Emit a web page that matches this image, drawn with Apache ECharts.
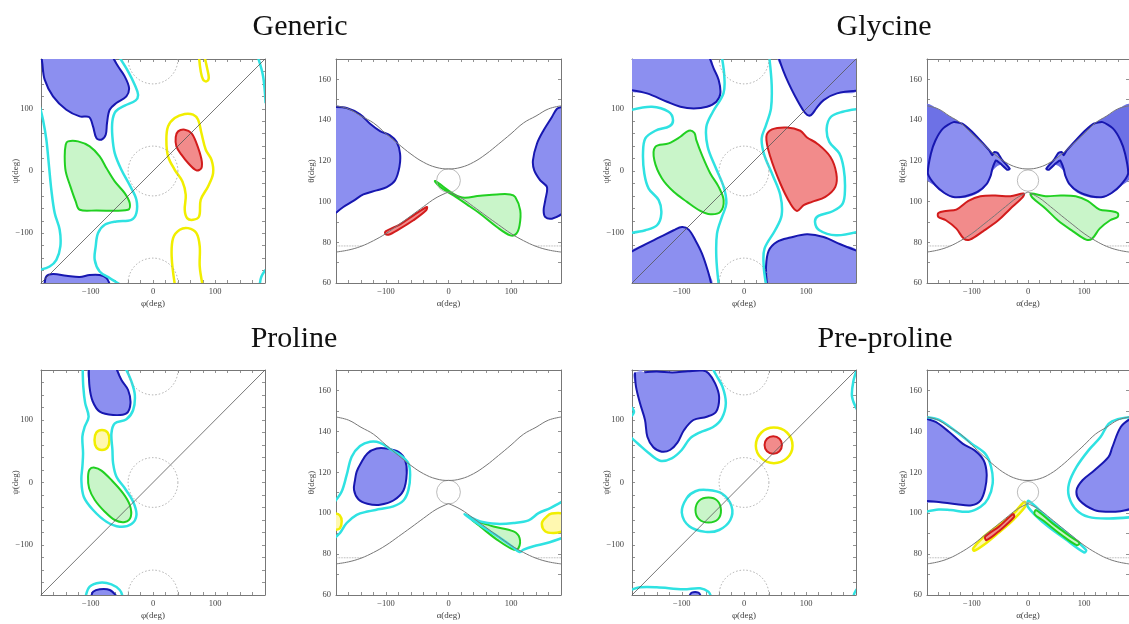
<!DOCTYPE html>
<html>
<head>
<meta charset="utf-8">
<script src="https://cdn.jsdelivr.net/npm/echarts@6/dist/echarts.min.js"></script>
<style>
  html, body { margin: 0; padding: 0; background: #fff; }
  #chart { width: 1129px; height: 624px; }
</style>
</head>
<body>
<div id="chart"></div>
<script>
// ---- axis ticks / labels ----
var angleTicks = [-180, -160, -140, -120, -100, -80, -60, -40, -20, 0, 20, 40, 60, 80, 100, 120, 140, 160, 180];
var angleLabels = [-100, 0, 100];
var thetaTicks = [60, 70, 80, 90, 100, 110, 120, 130, 140, 150, 160, 170];
var thetaLabels = [60, 80, 100, 120, 140, 160];
var titles = ['Generic', 'Glycine', 'Proline', 'Pre-proline'];

// ---- reference geometry ----
var hourUpper = [[-180, 147], [-160, 145.5], [-140, 142], [-120, 138.6], [-100, 133.3], [-80, 128.2], [-60, 123.3], [-40, 119.3], [-20, 116.8], [0, 116], [20, 116.8], [40, 119.3], [60, 123.3], [80, 128.2], [100, 133.3], [120, 138.6], [140, 142], [160, 145.5], [180, 147]];
var hourLowerL = [[-180, 75.2], [-160, 76.2], [-140, 78], [-120, 80.8], [-100, 84.3], [-80, 88.6], [-60, 93], [-40, 97.5], [-20, 101.8], [0, 104.7]];
var hourLowerR = [[0, 104.7], [20, 101.8], [40, 97.5], [60, 93], [80, 88.6], [100, 84.3], [120, 80.8], [140, 78], [160, 76.2], [180, 75.2]];
var dottedL = [[-180, 78.2], [-138, 78.2]];
var dottedR = [[138, 78.2], [180, 78.2]];
var ramaCircles = [[0, 0, 40], [0, 180, 40], [0, -180, 40]];
var atCircle = [[0, 110.3, 19]];
var diag = [[-180, -180], [180, 180]];

// ---- Generic, phi/psi ----
var gRamaBlueTop = [[-179, 182], [-178, 173.6], [-174.1, 146.8], [-160.7, 120], [-139.3, 98.5], [-117.8, 87.8], [-102.8, 86.7], [-96.4, 71.7], [-91, 53], [-83, 50.3], [-76, 58.3], [-73.9, 77.1], [-69.6, 98.5], [-58.9, 109.2], [-42.8, 120], [-38.5, 133.4], [-45.5, 152.1], [-56.2, 168.2], [-64.2, 182]];
var gRamaBlueBot = [[-174.1, -182], [-171.4, -169.5], [-160.7, -165.7], [-139.3, -168.4], [-117.8, -170.5], [-101.7, -167.3], [-85.7, -167.3], [-74.9, -172.1], [-69.6, -182]];
var gRamaCyanL = [[-182, 103.9], [-176.8, 82.4], [-171.4, 50.3], [-167.1, 7.4], [-163.4, -30.1], [-158, -67.6], [-150, -94.4], [-148.9, -121.2], [-155.3, -142.7], [-166.1, -153.4], [-182, -158.8]];
var gRamaCyanR = [[-53.5, 182], [-40.1, 160.2], [-29.4, 138.7], [-24, 122.6], [-27.8, 113.5], [-45.5, 105], [-60, 95.8], [-65.3, 79.8], [-65.3, 55.6], [-61.5, 28.8], [-50.8, 2], [-36.4, -24.8], [-26.7, -46.2], [-26.7, -67.6], [-34.7, -78.4], [-58.9, -81], [-77.6, -86.4], [-88.3, -99.8], [-92.1, -121.2], [-93.7, -142.7], [-85.7, -161.4], [-69.6, -172.2], [-53.5, -182]];
var gRamaCyanTR = [[168.9, 182], [177, 152], [181, 109]];
var gRamaCyanBR = [[181, -158.8], [174.3, -169.5], [171.6, -182]];
var gRamaGreen = [[-136.6, 47.6], [-120.5, 47.6], [-101.7, 39.6], [-85.7, 23.5], [-74.9, 4.7], [-61.5, -16.7], [-45.5, -35.5], [-37.4, -51.6], [-40.1, -62.3], [-91, -63.3], [-117.8, -62.3], [-124.3, -48.9], [-132.8, -24.8], [-140.3, -0.6], [-141.9, 23.5], [-140.3, 42.2]];
var gRamaRed = [[40.3, 63.7], [51, 66.4], [61.7, 61], [69.8, 44.9], [77.8, 19.2], [77.8, 4.7], [69.8, 1], [56.4, 12.8], [45.7, 26.2], [37.6, 39.6], [36.5, 54.6]];
var gRamaYelTop = [[74.1, 182], [76.7, 160.2], [80.5, 146.8], [85.9, 144.1], [89.6, 149.4], [86.9, 165.5], [83.2, 182]];
var gRamaYelMid = [[24.2, 71.7], [21.5, 50.3], [24.2, 23.5], [34.9, 2], [47.3, -16.7], [52.6, -38.2], [51, -62.3], [54.8, -75.7], [64.4, -78.4], [74.1, -73], [76.7, -46.2], [88.5, -24.8], [96.6, -3.3], [93.9, 18.1], [84.8, 34.2], [77.8, 61], [72.5, 82.4], [64.4, 90.5], [51, 91.6], [34.9, 85.1]];
var gRamaYelBot = [[35, -182], [30, -137.3], [32.3, -107.8], [43, -94.4], [56.4, -91.8], [69.8, -99.8], [75.1, -121.2], [75.1, -153.4], [79.4, -182]];

// ---- Generic, alpha/theta ----
var gAtBlueL = [[-182, 146.4], [-162.9, 145.9], [-141.5, 142.8], [-125.5, 138.2], [-109.5, 134.6], [-93.5, 132.5], [-82.8, 129.2], [-77.5, 123.5], [-78.5, 117], [-85.5, 110.4], [-98.8, 107.1], [-114.9, 105.5], [-136.2, 103.5], [-152.2, 100.3], [-168.3, 97.3], [-182, 94]];
var gAtBlueR = [[182, 146.4], [173.6, 145.6], [165.5, 141.5], [152.2, 135], [141.5, 128.4], [135.1, 120.2], [137.2, 115.3], [146.8, 110.4], [157.5, 107.1], [154.8, 100.6], [152.2, 95.7], [154.8, 92.4], [165.5, 91.6], [182, 94]];
var gAtGreen = [[-21.4, 110.1], [18.7, 102.2], [50.7, 102.9], [77.4, 103.5], [98.8, 103.5], [106.8, 102.2], [114.8, 95.7], [113.7, 88.3], [108.4, 84.2], [98.8, 83.4], [77.4, 87.5], [50.7, 94], [29.3, 98.6], [8, 103], [-13.4, 107.1]];
var gAtRed = [[-99.9, 85.5], [-77.5, 88.8], [-56.1, 93.2], [-34.7, 97.3], [-35.8, 95.7], [-56.1, 90.8], [-77.5, 86.7], [-96.2, 83.7], [-101.5, 84.5]];

// ---- Glycine, phi/psi ----
var yRamaBlueTL = [[-182, 130.1], [-155.9, 124.7], [-123.8, 111.3], [-102.3, 103.3], [-80.9, 100.6], [-59.5, 103.3], [-44.5, 111.3], [-38, 124.7], [-40.7, 146.2], [-48.8, 165], [-55.2, 182]];
var yRamaBlueTR = [[55.7, 182], [62.7, 162.3], [71.8, 140.8], [82.5, 119.4], [93.2, 100.6], [101.2, 90.4], [107.7, 89.9], [116.2, 100.6], [128, 114], [149.5, 124.7], [182, 129]];
var yRamaBlueBL = [[-182, -130.1], [-158.6, -117.8], [-134.5, -106], [-113, -95.2], [-99.6, -89.9], [-88.9, -94.2], [-78.2, -111.3], [-67.5, -132.8], [-58.4, -159.6], [-52.5, -182]];
var yRamaBlueBR = [[37, -182], [35.4, -154.2], [39.6, -128.5], [53, -114], [74.5, -107], [101.2, -101.7], [128, -106], [154.8, -117.8], [182, -128.5]];
var yRamaCyanL = [[-182, 97.9], [-147.9, 103.3], [-121.1, 95.2], [-114.1, 81.8], [-119.5, 72.2], [-142.5, 64.7], [-158.6, 52.3], [-162.3, 28.2], [-160.2, -4], [-153.2, -28.2], [-137.1, -46.9], [-132.9, -68.4], [-139.8, -87.2], [-158.6, -95.2], [-182, -99.5]];
var yRamaCyanR = [[182, -97.9], [147.9, -103.3], [121.1, -95.2], [114.1, -81.8], [119.5, -72.2], [142.5, -64.7], [158.6, -52.3], [162.3, -28.2], [160.2, 4], [153.2, 28.2], [137.1, 46.9], [132.9, 68.4], [139.8, 87.2], [158.6, 95.2], [182, 99.5]];
var yRamaCyanCL = [[-35.4, 182], [-31.6, 151.6], [-33, 124.7], [-50, 95.2], [-60.5, 71.1], [-58.4, 38.9], [-46.1, 6.7], [-32.7, -25.5], [-28.4, -52.3], [-35.4, -73.8], [-43.4, -100.6], [-44.5, -138.1], [-40.7, -182]];
var yRamaCyanCR = [[40.7, 182], [44.5, 138.1], [43.4, 100.6], [35.4, 73.8], [28.4, 52.3], [32.7, 25.5], [46.1, -6.7], [58.4, -38.9], [60.5, -71.1], [50, -95.2], [33, -124.7], [31.6, -151.6], [35.4, -182]];
var yRamaGreen = [[-121.1, 44.3], [-142.5, 38.9], [-144.1, 17.4], [-131.8, -12.1], [-113, -33.5], [-91.6, -49.6], [-70.2, -64.1], [-54.1, -69.5], [-38.1, -65.7], [-32.7, -46.9], [-40.7, -25.5], [-54.1, -4], [-67.5, 25.5], [-76.6, 49.6], [-79.8, 61.4], [-88.9, 64.7], [-102.3, 55]];
var yRamaRed = [[45, 66.8], [35.9, 55], [42.3, 22.8], [58.4, -20.1], [74.5, -52.3], [85.2, -64.1], [95.9, -55], [109.3, -49.6], [130.7, -41.6], [146.8, -25.5], [148.4, -4], [138.7, 22.8], [117.3, 44.3], [101.3, 53.9], [90.5, 64.7], [69.1, 70]];

// ---- Glycine, alpha/theta ----
var yAtDarkL = [[-182, 147.5], [-160, 145.5], [-140, 142], [-120, 138.6], [-100, 133.3], [-80, 128.2], [-60, 123.3], [-45, 120.3], [-33, 116.8], [-50, 118], [-63, 115], [-80, 106], [-110, 102], [-140, 102.5], [-165, 107.5], [-182, 112]];
var yAtBlueL = [[-178.4, 113.7], [-173.1, 123.5], [-165, 130], [-151.7, 135.8], [-133, 139], [-117, 138.2], [-101, 134.6], [-85, 130], [-68.9, 125.1], [-63.6, 122.7], [-60.4, 124.3], [-54, 123.8], [-46.5, 120.6], [-32.6, 116.1], [-36.9, 115.6], [-50.2, 118.9], [-57.2, 120.2], [-63.6, 116.1], [-66.3, 112.9], [-74.3, 108.4], [-90.3, 104.7], [-111.6, 102.6], [-133, 102.2], [-149, 104.2], [-165, 108]];
var yAtDarkR = [[182, 147.5], [160, 145.5], [140, 142], [120, 138.6], [100, 133.3], [80, 128.2], [60, 123.3], [45, 120.3], [33, 116.8], [50, 118], [63, 115], [80, 106], [110, 102], [140, 102.5], [165, 107.5], [182, 112]];
var yAtBlueR = [[178.4, 113.7], [173.1, 123.5], [165, 130], [151.7, 135.8], [133, 139], [117, 138.2], [101, 134.6], [85, 130], [68.9, 125.1], [63.6, 122.7], [60.4, 124.3], [54, 123.8], [46.5, 120.6], [32.6, 116.1], [36.9, 115.6], [50.2, 118.9], [57.2, 120.2], [63.6, 116.1], [66.3, 112.9], [74.3, 108.4], [90.3, 104.7], [111.6, 102.6], [133, 102.2], [149, 104.2], [165, 108]];
var yAtRed = [[-159.7, 94.4], [-146.4, 95.4], [-127.7, 96], [-106.3, 100.3], [-85, 102.6], [-58.2, 103], [-31.5, 102.6], [-7.5, 103.9], [-10.2, 101.9], [-31.5, 96.5], [-52.9, 90.8], [-79.6, 85.5], [-103.6, 81.3], [-114.3, 81.8], [-127.7, 86.7], [-146.4, 90.8], [-159.7, 92.4]];
var yAtGreen = [[159.7, 94.4], [146.4, 95.4], [127.7, 96], [106.3, 100.3], [85, 102.6], [58.2, 103], [31.5, 102.6], [5, 103.9], [8, 101.9], [31.5, 96.5], [52.9, 90.8], [79.6, 85.5], [103.6, 81.3], [114.3, 81.8], [127.7, 86.7], [146.4, 90.8], [159.7, 92.4]];

// ---- Proline, phi/psi ----
var pRamaBlueTop = [[-103, 182], [-102, 153], [-97, 130], [-85.6, 113.3], [-64.1, 108], [-42.7, 110.7], [-36.2, 126.7], [-40, 148], [-50.7, 164], [-58.7, 182]];
var pRamaBlueBot = [[-99, -182], [-96.3, -174.7], [-85.6, -170.9], [-69.5, -172], [-58.7, -182]];
var pRamaCyan = [[-113, 182], [-112, 153], [-109, 127], [-103.5, 105.3], [-109.7, 89.3], [-113.5, 73.3], [-112.4, 46.7], [-113.5, 25.3], [-115.1, 4], [-111.3, -22.7], [-96.3, -44], [-74.8, -62.7], [-53.4, -70.7], [-34.6, -66.4], [-26.6, -52], [-31.9, -30.7], [-45.3, -9.3], [-58.7, 9.3], [-64.1, 30.7], [-65.2, 52], [-66.8, 78.7], [-61.4, 94.7], [-42.7, 101.1], [-31.9, 116], [-29.2, 140], [-34.6, 161.3], [-43.7, 182]];
var pRamaCyanBot = [[-108.1, -182], [-101.7, -166.7], [-85.6, -160.3], [-66.8, -162.9], [-53.4, -172], [-49.1, -182]];
var pRamaYellow = [[-82, 84], [-73, 80], [-70, 68], [-73, 56], [-82, 52], [-91, 56], [-94, 68], [-91, 80]];
var pRamaGreen = [[-93.6, 23.7], [-101.7, 21.1], [-104.4, 9.3], [-102.7, -9.3], [-93.6, -28], [-77.5, -46.7], [-61.4, -60], [-45.3, -63.2], [-35.7, -54.7], [-37.3, -36], [-48, -17.3], [-66.8, 4], [-82.9, 19]];

// ---- Proline, alpha/theta ----
var pAtBlue = [[-149.6, 116.2], [-151.2, 111.4], [-144.2, 106.8], [-129.8, 104.6], [-109.5, 104.1], [-88.2, 106.2], [-72.1, 111.1], [-66.8, 119.5], [-69.5, 126], [-80.1, 130], [-98.8, 131.6], [-114.9, 131.6], [-129.8, 129.2], [-140.5, 124.3], [-146.9, 120.3]];
var pAtCyanL = [[-182, 105.7], [-170.9, 110.6], [-162.9, 118.7], [-154.9, 127.6], [-141.6, 132.8], [-125.5, 134.9], [-109.5, 134.4], [-90.8, 130.8], [-74.8, 127.9], [-64.1, 124.3], [-61.4, 118.7], [-64.1, 111.4], [-72.1, 106.2], [-88.2, 103.3], [-109.5, 102], [-129.8, 100.8], [-146.9, 99.2], [-162.9, 95.2], [-173.6, 90.3], [-182, 87.9]];
var pAtCyanR = [[182, 105.7], [162.8, 102.5], [144.1, 100], [128.1, 96.5], [104.1, 95.2], [77.4, 94.8], [50.7, 96], [25.6, 99.4], [50, 94.3], [80, 88.4], [100, 84.1], [113.7, 81], [120.1, 82.2], [136.1, 83.8], [157.5, 85.4], [182, 87.9]];
var pAtYelL = [[-182, 100], [-174, 99], [-170.9, 96], [-174, 92.5], [-182, 91.9]];
var pAtYelR = [[182, 100], [165, 99.8], [157.5, 98.4], [149.5, 95.2], [154.8, 91.1], [168.2, 90.3], [182, 91.1]];
var pAtGreen = [[37.4, 96.8], [45.4, 96], [72.1, 93.5], [104.1, 91.1], [113.7, 87.9], [112.1, 83], [104.1, 82.2], [77.4, 87.1], [50.7, 93.5]];

// ---- Pre-proline, phi/psi ----
var qRamaBlue = [[-175.2, 176], [-173.6, 153.3], [-167.1, 126.7], [-159.1, 100], [-155.3, 73.3], [-145.7, 56.3], [-132.3, 49.3], [-118.8, 52], [-107, 63.7], [-96.3, 84], [-81.3, 100], [-59.8, 105.3], [-44.8, 113.3], [-40, 137.3], [-46.4, 158.7], [-57.1, 174.7], [-66, 179], [-90, 178], [-115, 176], [-140, 177.5], [-160, 176.5]];
var qRamaCyan = [[-182, 72.3], [-169.8, 61.6], [-153.7, 47.7], [-134.9, 34.9], [-116.2, 38.7], [-100.1, 52], [-86.6, 70.7], [-70.6, 80.3], [-50.2, 88.3], [-35.7, 102.7], [-29.2, 126.7], [-34.6, 153.3], [-44.8, 172], [-50.2, 182]];
var qRamaCyanL = [[-182, 121.3], [-176.8, 113.3], [-182, 105.3]];
var qRamaCyanTR = [[182, 182], [176.2, 164], [173.6, 137.3], [182, 116]];
var qRamaCyanBot = [[-182, -172], [-167.1, -167.7], [-140.3, -167.7], [-97.4, -170.9], [-70.6, -169.3], [-57.1, -174.7], [-53.4, -182]];
var qRamaCyanBR = [[182, -170], [178, -176], [176, -182]];
var qRamaBlueBot = [[-87.7, -182], [-84, -176.3], [-73.2, -176.3], [-69.5, -182]];
var qRamaGreen = [[-57, -24], [-43, -29], [-37, -44], [-42, -59], [-57, -64], [-72, -59], [-78, -44], [-72, -29]];
var qRamaCyanG = [[-60, -12], [-35, -18], [-20, -38], [-22, -60], [-40, -76], [-62, -79], [-88, -70], [-100, -48], [-92, -25], [-78, -14]];
var qRamaRed = [[47, 74], [57, 70], [61, 60], [57, 50], [47, 46], [37, 50], [33, 60], [37, 70]];
var qRamaYellow = [[48, 88], [69, 80], [78, 59], [69, 39], [48, 31], [28, 39], [19, 59], [28, 80]];

// ---- Pre-proline, alpha/theta ----
var qAtBlueL = [[-182, 146.2], [-164.5, 144.6], [-140.5, 139.7], [-116.5, 134], [-95.1, 130.7], [-79.1, 125.9], [-73.7, 119.3], [-76.4, 112], [-84.4, 106.3], [-100.4, 103.9], [-127.1, 104.4], [-159.2, 105.5], [-182, 106]];
var qAtCyanL = [[-182, 147], [-159.2, 145.7], [-127.1, 139.7], [-100.4, 134], [-76.4, 129.1], [-65.7, 122.6], [-63, 114.5], [-71, 107.2], [-84.4, 103.1], [-105.8, 100.7], [-137.8, 101.5], [-159.2, 101.8], [-182, 100.7]];
var qAtBlueR = [[182, 146], [165, 142], [150, 132], [143.6, 127.5], [118.5, 121], [97.1, 116.1], [86.5, 111.2], [91.8, 106.3], [118.5, 101.5], [143.6, 100.7], [165, 101], [182, 102]];
var qAtCyanR = [[182, 147], [160, 146], [143.6, 143.7], [129.2, 137.2], [107.8, 130.7], [86.5, 122.6], [73.1, 114.5], [73.1, 108], [86.5, 101.5], [107.8, 98.2], [143.6, 97.4], [182, 98]];
var qAtYellow = [[-97.8, 82.8], [-79.1, 88.5], [-52.4, 94.1], [-25.7, 99.8], [-7, 105.5], [-3.2, 103.9], [-25.7, 96.9], [-52.4, 90.4], [-79.1, 84.4], [-96.2, 81.6]];
var qAtRed = [[-76.4, 88.5], [-52.4, 93.3], [-26.8, 99.5], [-24.7, 98.2], [-49.7, 91.7], [-73.7, 86.8]];
var qAtCyanG = [[1, 106], [33.1, 98.2], [70.4, 90.1], [103.5, 82], [99.8, 80.8], [65.1, 87.6], [27.7, 95.3], [0, 103]];
var qAtGreen = [[14.4, 101.5], [43.7, 95], [75.8, 88.5], [91.8, 85.5], [86.5, 84.4], [59.8, 89.3], [27.7, 96.3], [11.7, 99.5]];

// ---- styles ----
var C = {
  blueFill: '#8c8ff0', blueLine: '#1717b0', darkFill: '#6d71e6',
  cyan: '#2fe2e2', greenFill: '#c9f5c9', greenLine: '#21d021',
  redFill: '#f28b8b', redLine: '#d21c1c', yellow: '#f1ee00', yellowFill: '#fff8b0'
};
var FONT = 'Liberation Serif';

var panels = [
  { type: 'rama', left: 41, top: 59, w: 224, h: 224 },
  { type: 'at', left: 336, top: 59, w: 225, h: 224 },
  { type: 'rama', left: 632, top: 59, w: 224, h: 224 },
  { type: 'at', left: 927, top: 59, w: 225, h: 224 },
  { type: 'rama', left: 41, top: 370, w: 224, h: 225 },
  { type: 'at', left: 336, top: 370, w: 225, h: 225 },
  { type: 'rama', left: 632, top: 370, w: 224, h: 225 },
  { type: 'at', left: 927, top: 370, w: 225, h: 225 }
];

function fmt(v) { return String(v).replace('-', '\u2212'); }

function axis(gi, pos, ticks, labels, min, max, name, margin, gap) {
  return {
    type: 'value', gridIndex: gi, position: pos, min: min, max: max,
    axisLine: { show: true, onZero: false, lineStyle: { color: '#777', width: 1 } },
    axisTick: { show: true, inside: true, length: 3, customValues: ticks, lineStyle: { color: '#777', width: 0.8 } },
    axisLabel: { show: !!labels, customValues: labels || [], margin: margin, fontSize: 8.5, color: '#444', fontFamily: FONT, formatter: fmt },
    splitLine: { show: false },
    name: name || '', nameLocation: 'middle', nameGap: gap || 15, nameMoveOverlap: false,
    nameTextStyle: { fontSize: 9, color: '#444', fontFamily: FONT }
  };
}

// polygon / line drawn through the axes of grid gi
function shape(gi, pts, o) {
  return {
    type: 'custom', xAxisIndex: gi * 2, yAxisIndex: gi * 2, clip: true, silent: true,
    data: pts,
    renderItem: function (params, api) {
      if (params.dataIndex !== 0) return null;
      var sm = o.smooth == null ? 0.35 : o.smooth;
      var px = pts.map(function (p) { return api.coord(p); });
      var kids = [];
      if (o.fill) {
        var fp = o.close ? px.concat(o.close.map(function (p) { return api.coord(p); })) : px;
        kids.push({ type: 'polygon', shape: { points: fp, smooth: sm },
          style: { fill: o.fill, stroke: (o.loop && o.stroke) ? o.stroke : null, lineWidth: o.w } });
      }
      if (o.stroke && !(o.fill && o.loop)) {
        kids.push({ type: o.loop ? 'polygon' : 'polyline', shape: { points: px, smooth: sm },
          style: { fill: 'none', stroke: o.stroke, lineWidth: o.w } });
      }
      return { type: 'group', children: kids };
    }
  };
}

function blueEdge(gi, pts, close) { return shape(gi, pts, { fill: C.blueFill, stroke: C.blueLine, w: 2, close: close || [] }); }
function blueLoop(gi, pts, sm) { return shape(gi, pts, { fill: C.blueFill, stroke: C.blueLine, w: 2, loop: true, smooth: sm }); }
function greenLoop(gi, pts) { return shape(gi, pts, { fill: C.greenFill, stroke: C.greenLine, w: 2, loop: true }); }
function redLoop(gi, pts) { return shape(gi, pts, { fill: C.redFill, stroke: C.redLine, w: 2, loop: true }); }
function cyanLine(gi, pts) { return shape(gi, pts, { stroke: C.cyan, w: 2.5 }); }
function cyanLoop(gi, pts) { return shape(gi, pts, { stroke: C.cyan, w: 2.5, loop: true }); }
function yelLine(gi, pts) { return shape(gi, pts, { stroke: C.yellow, w: 2.5 }); }
function yelLoop(gi, pts, fill) { return shape(gi, pts, { stroke: C.yellow, fill: fill, w: 2.5, loop: true }); }

function lineSeries(gi, pts, color, width, dash, smooth) {
  return {
    type: 'line', xAxisIndex: gi * 2, yAxisIndex: gi * 2, data: pts, smooth: smooth ? 0.4 : false,
    symbol: 'none', silent: true, clip: true,
    lineStyle: { color: color, width: width, type: dash || 'solid' }
  };
}

function circles(gi, data, style) {
  return {
    type: 'custom', xAxisIndex: gi * 2, yAxisIndex: gi * 2, clip: true, silent: true,
    data: data,
    renderItem: function (params, api) {
      var c = api.coord([api.value(0), api.value(1)]);
      var r = api.size([api.value(2), 0])[0];
      return { type: 'circle', shape: { cx: c[0], cy: c[1], r: r }, style: style };
    }
  };
}

var grid = [], xAxis = [], yAxis = [], series = [];
panels.forEach(function (p, i) {
  var at = p.type === 'at';
  grid.push({ left: p.left, top: p.top, width: p.w, height: p.h });
  xAxis.push(axis(i, 'bottom', angleTicks, angleLabels, -180, 180, at ? '\u03b1(deg)' : '\u03c6(deg)', 4, 16));
  xAxis.push(axis(i, 'top', angleTicks, null, -180, 180));
  yAxis.push(axis(i, 'left', at ? thetaTicks : angleTicks, at ? thetaLabels : angleLabels,
    at ? 60 : -180, at ? 170 : 180, at ? '\u03b8(deg)' : '\u03c8(deg)', at ? 5 : 8, at ? 20 : 21));
  yAxis.push(axis(i, 'right', at ? thetaTicks : angleTicks, null, at ? 60 : -180, at ? 170 : 180));
});

// Generic
series.push(
  blueEdge(0, gRamaBlueTop, [[-190, 190]]), blueEdge(0, gRamaBlueBot),
  greenLoop(0, gRamaGreen), redLoop(0, gRamaRed),
  cyanLine(0, gRamaCyanL), cyanLine(0, gRamaCyanR), cyanLine(0, gRamaCyanTR), cyanLine(0, gRamaCyanBR),
  yelLine(0, gRamaYelTop), yelLoop(0, gRamaYelMid), yelLine(0, gRamaYelBot),
  blueEdge(1, gAtBlueL), blueEdge(1, gAtBlueR), greenLoop(1, gAtGreen), redLoop(1, gAtRed)
);
// Glycine
series.push(
  blueEdge(2, yRamaBlueTL, [[-190, 190]]), blueEdge(2, yRamaBlueTR, [[190, 190]]),
  blueEdge(2, yRamaBlueBL, [[-190, -190]]), blueEdge(2, yRamaBlueBR, [[190, -190]]),
  greenLoop(2, yRamaGreen), redLoop(2, yRamaRed),
  cyanLine(2, yRamaCyanL), cyanLine(2, yRamaCyanR), cyanLine(2, yRamaCyanCL), cyanLine(2, yRamaCyanCR),
  shape(3, yAtDarkL, { fill: C.darkFill }), shape(3, yAtDarkR, { fill: C.darkFill }),
  blueLoop(3, yAtBlueL, 0.2), blueLoop(3, yAtBlueR, 0.2), redLoop(3, yAtRed), greenLoop(3, yAtGreen)
);
// Proline
series.push(
  blueEdge(4, pRamaBlueTop), blueEdge(4, pRamaBlueBot), greenLoop(4, pRamaGreen),
  yelLoop(4, pRamaYellow, C.yellowFill), cyanLine(4, pRamaCyan), cyanLine(4, pRamaCyanBot),
  blueLoop(5, pAtBlue), greenLoop(5, pAtGreen), cyanLine(5, pAtCyanL), cyanLine(5, pAtCyanR),
  shape(5, pAtYelL, { fill: C.yellowFill, stroke: C.yellow, w: 2.5, close: [] }),
  shape(5, pAtYelR, { fill: C.yellowFill, stroke: C.yellow, w: 2.5, close: [] })
);
// Pre-proline
series.push(
  blueEdge(6, qRamaBlue, [[-190, 190], [-60, 190]]), blueEdge(6, qRamaBlueBot),
  cyanLine(6, qRamaCyan), cyanLine(6, qRamaCyanL), cyanLine(6, qRamaCyanTR), cyanLine(6, qRamaCyanBot), cyanLine(6, qRamaCyanBR),
  cyanLoop(6, qRamaCyanG), greenLoop(6, qRamaGreen), yelLoop(6, qRamaYellow), redLoop(6, qRamaRed),
  blueEdge(7, qAtBlueL), blueEdge(7, qAtBlueR), cyanLine(7, qAtCyanL), cyanLine(7, qAtCyanR),
  yelLoop(7, qAtYellow, C.yellowFill), redLoop(7, qAtRed), cyanLoop(7, qAtCyanG), greenLoop(7, qAtGreen)
);

// reference lines on top
panels.forEach(function (p, i) {
  if (p.type === 'rama') {
    series.push(circles(i, ramaCircles, { fill: 'none', stroke: '#999', lineWidth: 0.8, lineDash: [1.5, 2] }));
    series.push(lineSeries(i, diag, '#555', 0.8));
  } else {
    series.push(lineSeries(i, hourUpper, '#777', 1, 'solid', true));
    series.push(lineSeries(i, hourLowerL, '#777', 1, 'solid', true));
    series.push(lineSeries(i, hourLowerR, '#777', 1, 'solid', true));
    series.push(lineSeries(i, dottedL, '#999', 0.8, 'dotted'));
    series.push(lineSeries(i, dottedR, '#999', 0.8, 'dotted'));
    series.push(circles(i, atCircle, { fill: 'none', stroke: '#aaa', lineWidth: 0.8 }));
  }
});

var titlePos = [[300, 12], [884, 12], [294, 324], [885, 324]];
var title = titles.map(function (t, i) {
  return {
    text: t, left: titlePos[i][0], top: titlePos[i][1], textAlign: 'center', padding: 0,
    textStyle: { fontFamily: FONT, fontSize: 30, fontWeight: 'normal', color: '#111' }
  };
});

var chart = echarts.init(document.getElementById('chart'));
chart.setOption({
  animation: false,
  backgroundColor: '#fff',
  title: title,
  grid: grid, xAxis: xAxis, yAxis: yAxis, series: series
});
</script>
</body>
</html>
